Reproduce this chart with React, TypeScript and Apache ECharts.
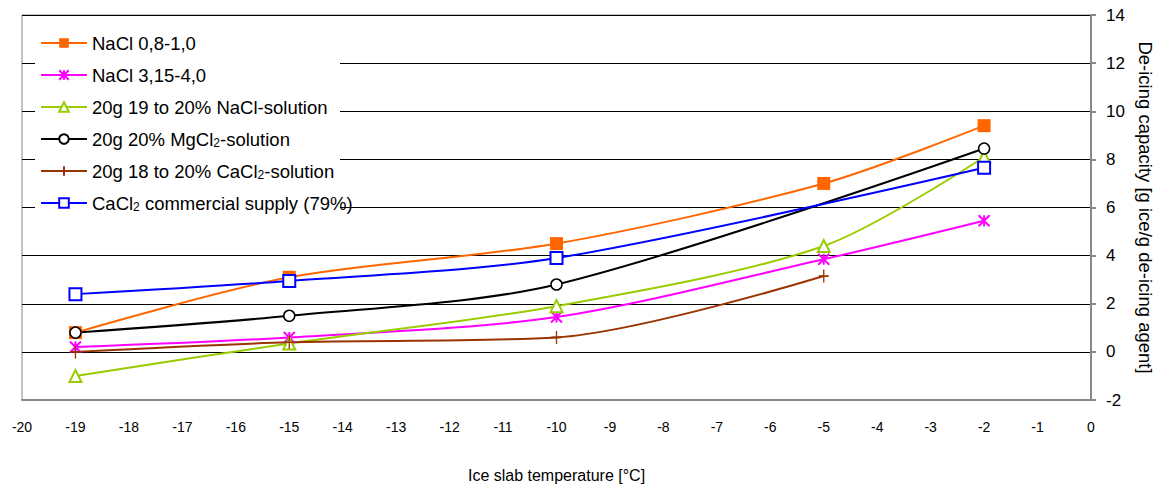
import React, { useEffect, useRef } from "react";
import * as echarts from "echarts";

const xTicks = { min: -20, max: 0, interval: 1 };
const yTicks = { min: -2, max: 14, interval: 2 };

const names = [
  "NaCl 0,8-1,0",
  "NaCl 3,15-4,0",
  "20g 19 to 20% NaCl-solution",
  "20g 20% MgCl2-solution",
  "20g 18 to 20% CaCl2-solution",
  "CaCl2 commercial supply (79%)",
];

const naclCoarse = [[-19, 0.8], [-15, 3.1], [-10, 4.5], [-5, 7.0], [-2, 9.4]];
const naclFine = [[-19, 0.2], [-15, 0.6], [-10, 1.45], [-5, 3.85], [-2, 5.45]];
const naclSolution = [[-19, -1.0], [-15, 0.35], [-10, 1.9], [-5, 4.4], [-2, 8.1]];
const mgcl2Solution = [[-19, 0.8], [-15, 1.5], [-10, 2.8], [-2, 8.45]];
const cacl2Solution = [[-19, 0.0], [-15, 0.4], [-10, 0.6], [-5, 3.15]];
const cacl2Commercial = [[-19, 2.4], [-15, 2.95], [-10, 3.9], [-2, 7.65]];

const legendLabels: Record<string, string> = {
  "20g 20% MgCl2-solution": "20g 20% MgCl{sub|2}-solution",
  "20g 18 to 20% CaCl2-solution": "20g 18 to 20% CaCl{sub|2}-solution",
  "CaCl2 commercial supply (79%)": "CaCl{sub|2} commercial supply (79%)",
};

const FONT = "'Liberation Sans', Arial, sans-serif";

export default function App() {
  const ref = useRef<HTMLDivElement>(null);
  useEffect(() => {
    if (!ref.current) return;
    const chart = echarts.init(ref.current, undefined, { renderer: "svg" });
    const mk = (
      name: string,
      data: number[][],
      color: string,
      symbol: string,
      size: number | number[],
      fill: string,
      borderWidth: number
    ) => ({
      name,
      type: "line",
      data,
      smooth: 0.3,
      symbol,
      symbolSize: size,
      showSymbol: true,
      lineStyle: { color, width: 2 },
      itemStyle: { color: fill, borderColor: color, borderWidth },
      z: 3,
    });
    chart.setOption({
      animation: false,
      textStyle: { fontFamily: FONT },
      grid: {
        left: 22,
        right: 69,
        top: 15,
        bottom: 84,
        show: true,
        borderColor: "#888",
        borderWidth: 1,
        outerBoundsMode: "none",
        containLabel: false,
      },
      graphic: [
        {
          type: "rect",
          shape: { x: 35, y: 21, width: 305, height: 203 },
          style: { fill: "#fff" },
          z: 3,
        },
      ],
      legend: {
        orient: "vertical",
        left: 40,
        top: 33,
        padding: 0,
        itemWidth: 46,
        itemHeight: 12,
        itemGap: 12,
        data: names,
        formatter: (n: string) => legendLabels[n] || n,
        textStyle: {
          fontFamily: FONT,
          fontSize: 18.5,
          lineHeight: 20,
          color: "#000",
          rich: {
            sub: { fontFamily: FONT, fontSize: 12, verticalAlign: "bottom", lineHeight: 20, padding: [8, 0, 0, 0], color: "#000" },
          },
        },
        z: 4,
      },
      xAxis: {
        type: "value",
        ...xTicks,
        axisLine: { show: true, onZero: false, lineStyle: { color: "#888", width: 2 } },
        axisTick: { show: false },
        splitLine: { show: false },
        axisLabel: { margin: 20, fontFamily: FONT, fontSize: 14, color: "#000" },
        name: "Ice slab temperature [°C]",
        nameLocation: "middle",
        nameGap: 67,
        nameTextStyle: { fontFamily: FONT, fontSize: 16, color: "#000" },
      },
      yAxis: {
        type: "value",
        position: "right",
        ...yTicks,
        axisLine: { show: true, lineStyle: { color: "#888", width: 2 } },
        axisTick: { show: true, inside: false, length: 5, lineStyle: { color: "#888", width: 2 } },
        splitLine: { show: true, lineStyle: { color: "#000", width: 1 } },
        axisLabel: { margin: 15, fontFamily: FONT, fontSize: 17, color: "#000" },
        name: "De-icing capacity [g ice/g de-icing agent]",
        nameLocation: "middle",
        nameRotate: -90,
        nameGap: 45,
        nameTextStyle: { fontFamily: FONT, fontSize: 18.5, color: "#000" },
      },
      series: [
        mk(names[0], naclCoarse, "#FF6600", "rect", 13, "#FF6600", 0),
        mk(names[1], naclFine, "#FF00FF", "path://M5 0 L5 10 M0 0 L10 10 M10 0 L0 10", 11, "none", 2),
        mk(names[2], naclSolution, "#99CC00", "triangle", 12, "#fff", 2),
        mk(names[3], mgcl2Solution, "#000000", "circle", 11, "#fff", 1.5),
        mk(names[4], cacl2Solution, "#993300", "path://M5 0 L5 12 M1 6 L9 6", [10, 13], "none", 1.5),
        mk(names[5], cacl2Commercial, "#0000FF", "rect", 12, "#fff", 2),
      ],
    });
    return () => chart.dispose();
  }, []);
  return <div ref={ref} style={{ position: "absolute", left: 0, top: 0, width: 1160, height: 484 }} />;
}
